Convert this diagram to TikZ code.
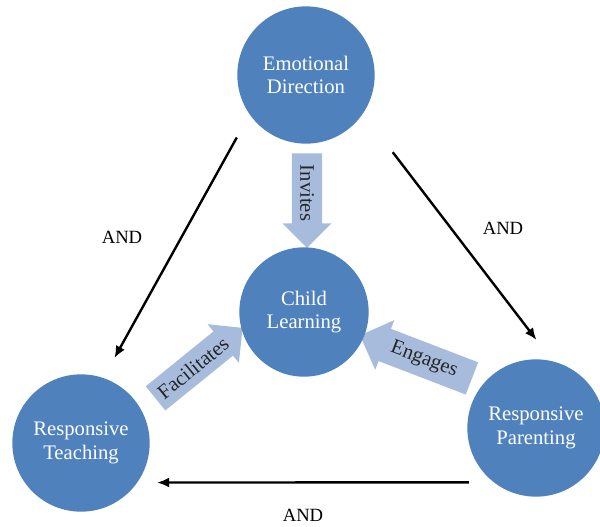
\documentclass[tikz,border=0pt]{standalone}
\usepackage{fontspec}
\setmainfont{Liberation Serif}
\usepackage{xcolor}
\usetikzlibrary{shapes.arrows,arrows.meta}

\definecolor{circblue}{HTML}{4F81BD}
\definecolor{arrowblue}{HTML}{A7BCDC}

\begin{document}
\begin{tikzpicture}[x=0.75pt,y=-0.75pt,
    bubble/.style={shape=circle, fill=circblue, text=white, minimum size=103pt, inner sep=0pt, align=center, font=\fontsize{15.5}{17.5}\selectfont},
    flow/.style={shape=single arrow, fill=arrowblue, text=black!85, single arrow head extend=7pt, single arrow head indent=0pt, inner xsep=2pt, inner ysep=6pt, minimum width=0pt, font=\fontsize{15.5}{17}\selectfont},
    link/.style={line width=1.8pt, -{Latex[length=9pt,width=7.5pt]}},
    andlbl/.style={font=\fontsize{14}{16}\selectfont}]
    \useasboundingbox (0,0) rectangle (600,526);

    \node[flow, minimum height=71pt, rotate=-90] (invites) at (307,193) {Invites};
    \node[flow, minimum height=84pt, rotate=39] (facil) at (193,368) {Facilitates};
    \node[flow, minimum height=90pt, rotate=-21, shape border rotate=180] (engages) at (424,360) {Engages};

    \node[bubble] (emotion) at (306,75) {Emotional\\Direction};
    \node[bubble, minimum size=97pt] (child) at (304,312) {Child\\Learning};
    \node[bubble] (teach) at (81,443) {Responsive\\Teaching};
    \node[bubble] (parent) at (536,428) {Responsive\\Parenting};

    \draw[link, shorten <=19.7pt, shorten >=17pt] (emotion.215) -- (teach.71);
    \draw[link, shorten <=36.5pt, shorten >=20pt] (emotion.326) -- (parent.76);
    \draw[link, shorten <=18.5pt, shorten >=14.7pt] (parent.232) -- (teach.325);

    \node[andlbl] (and1) at (122,237) {AND};
    \node[andlbl] (and2) at (503,228) {AND};
    \node[andlbl] (and3) at (303,515) {AND};
  \end{tikzpicture}
\end{document}
